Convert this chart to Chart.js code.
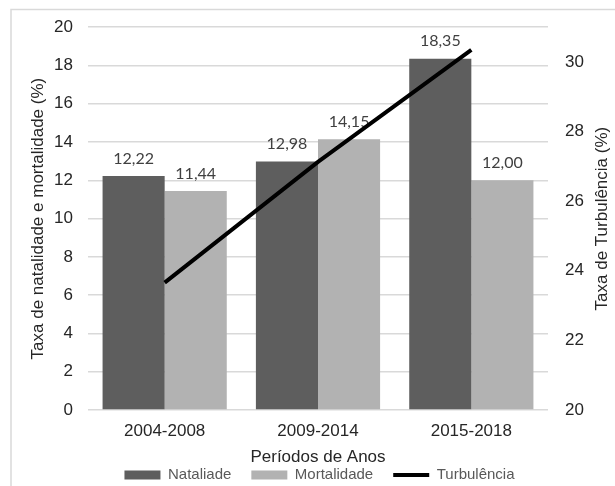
<!DOCTYPE html>
<html>
<head>
<meta charset="utf-8">
<script src="https://cdn.jsdelivr.net/npm/chart.js@4.4.1/dist/chart.umd.min.js"></script>
<style>
  html, body { margin: 0; padding: 0; background: #fff; overflow: hidden; }
  canvas { display: block; }
</style>
</head>
<body>
<canvas id="grafico" width="615" height="486"></canvas>
<script>
// dados
const periodos = ['2004-2008', '2009-2014', '2015-2018'];
const natalidade = [12.22, 12.98, 18.35];
const mortalidade = [11.44, 14.15, 12.00];
const turbulencia = [23.66, 27.13, 30.35];
const ticksEsquerda = { min: 0, max: 20, step: 2 };
const ticksDireita = { min: 20, max: 31, step: 2 };

const fonteEixo = { family: '"Liberation Sans", Arial, sans-serif', size: 17 };
const corTexto = '#262626';

// rótulos de dados em cima das barras (antes da linha ser desenhada)
const rotulosBarras = {
    id: 'rotulosBarras',
    afterDatasetDraw(chart, args) {
        const meta = args.meta;
        if (meta.type !== 'bar') return;
        const ctx = chart.ctx;
        const valores = chart.data.datasets[args.index].data;
        ctx.save();
        ctx.font = '16px Lato, "Open Sans", sans-serif';
        ctx.fillStyle = '#404040';
        ctx.textAlign = 'center';
        ctx.textBaseline = 'middle';
        meta.data.forEach((barra, i) => {
            ctx.fillText(valores[i].toFixed(2).replace('.', ','), barra.x, barra.y - 17.5);
        });
        ctx.restore();
    }
};

// moldura cinza e título do eixo direito (lido de baixo para cima)
const moldura = {
    id: 'moldura',
    beforeDraw(chart) {
        const ctx = chart.ctx;
        ctx.save();
        ctx.strokeStyle = '#d9d9d9';
        ctx.lineWidth = 1.5;
        ctx.beginPath();
        ctx.moveTo(11, 486);
        ctx.lineTo(11, 9.5);
        ctx.lineTo(615, 9.5);
        ctx.stroke();
        ctx.restore();
    },
    afterDraw(chart) {
        const ctx = chart.ctx;
        const area = chart.chartArea;
        ctx.save();
        ctx.translate(602, (area.top + area.bottom) / 2);
        ctx.rotate(-Math.PI / 2);
        ctx.font = '17px "Liberation Sans", Arial, sans-serif';
        ctx.fillStyle = corTexto;
        ctx.textAlign = 'center';
        ctx.textBaseline = 'middle';
        ctx.fillText('Taxa de Turbulência (%)', 0, 0);
        ctx.restore();
    }
};

new Chart(document.getElementById('grafico'), {
    data: {
        labels: periodos,
        datasets: [{
            type: 'bar',
            label: 'Nataliade',
            data: natalidade,
            backgroundColor: '#5e5e5e',
            borderWidth: 0,
            yAxisID: 'y',
            order: 1
        }, {
            type: 'bar',
            label: 'Mortalidade',
            data: mortalidade,
            backgroundColor: '#b2b2b2',
            borderWidth: 0,
            yAxisID: 'y',
            order: 1
        }, {
            type: 'line',
            label: 'Turbulência',
            data: turbulencia,
            borderColor: '#000000',
            backgroundColor: '#000000',
            borderWidth: 4,
            pointRadius: 0,
            tension: 0,
            fill: false,
            yAxisID: 'y1',
            order: 0
        }]
    },
    options: {
        responsive: false,
        animation: false,
        categoryPercentage: 0.81,
        barPercentage: 1,
        layout: { padding: { left: 24, right: 0, top: 24, bottom: 0 } },
        scales: {
            x: {
                grid: { display: false, drawTicks: false },
                border: { display: false },
                ticks: { font: fonteEixo, color: corTexto, padding: 11 },
                title: {
                    display: true,
                    text: 'Períodos de Anos',
                    font: fonteEixo,
                    color: corTexto,
                    padding: { top: 0, bottom: -20 }
                },
                afterFit(s) { s.height = 37.5; }
            },
            y: {
                position: 'left',
                min: ticksEsquerda.min,
                max: ticksEsquerda.max,
                grid: { color: '#d9d9d9', lineWidth: 1.5, drawTicks: false },
                border: { display: false },
                ticks: { stepSize: ticksEsquerda.step, font: fonteEixo, color: corTexto, padding: 15 },
                title: {
                    display: true,
                    text: 'Taxa de natalidade e mortalidade (%)',
                    font: fonteEixo,
                    color: corTexto,
                    padding: { top: 4, bottom: 0 }
                },
                afterFit(s) { s.width = 64; }
            },
            y1: {
                position: 'right',
                min: ticksDireita.min,
                max: ticksDireita.max,
                grid: { display: false, drawTicks: false },
                border: { display: false },
                ticks: { stepSize: ticksDireita.step, includeBounds: false, font: fonteEixo, color: corTexto, padding: 17 },
                afterFit(s) { s.width = 67; }
            }
        },
        plugins: {
            legend: {
                position: 'bottom',
                maxHeight: 38.5,
                labels: {
                    usePointStyle: true,
                    pointStyleWidth: 36,
                    boxHeight: 9,
                    padding: 20,
                    color: '#595959',
                    font: { family: '"Liberation Sans", Arial, sans-serif', size: 15 },
                    sort: (a, b) => a.datasetIndex - b.datasetIndex,
                    generateLabels(chart) {
                        const itens = Chart.defaults.plugins.legend.labels.generateLabels(chart);
                        itens.forEach(item => {
                            item.pointStyle = item.datasetIndex === 2 ? 'line' : 'rect';
                        });
                        return itens;
                    }
                }
            },
            tooltip: { enabled: false }
        }
    },
    plugins: [rotulosBarras, moldura]
});
</script>
</body>
</html>
